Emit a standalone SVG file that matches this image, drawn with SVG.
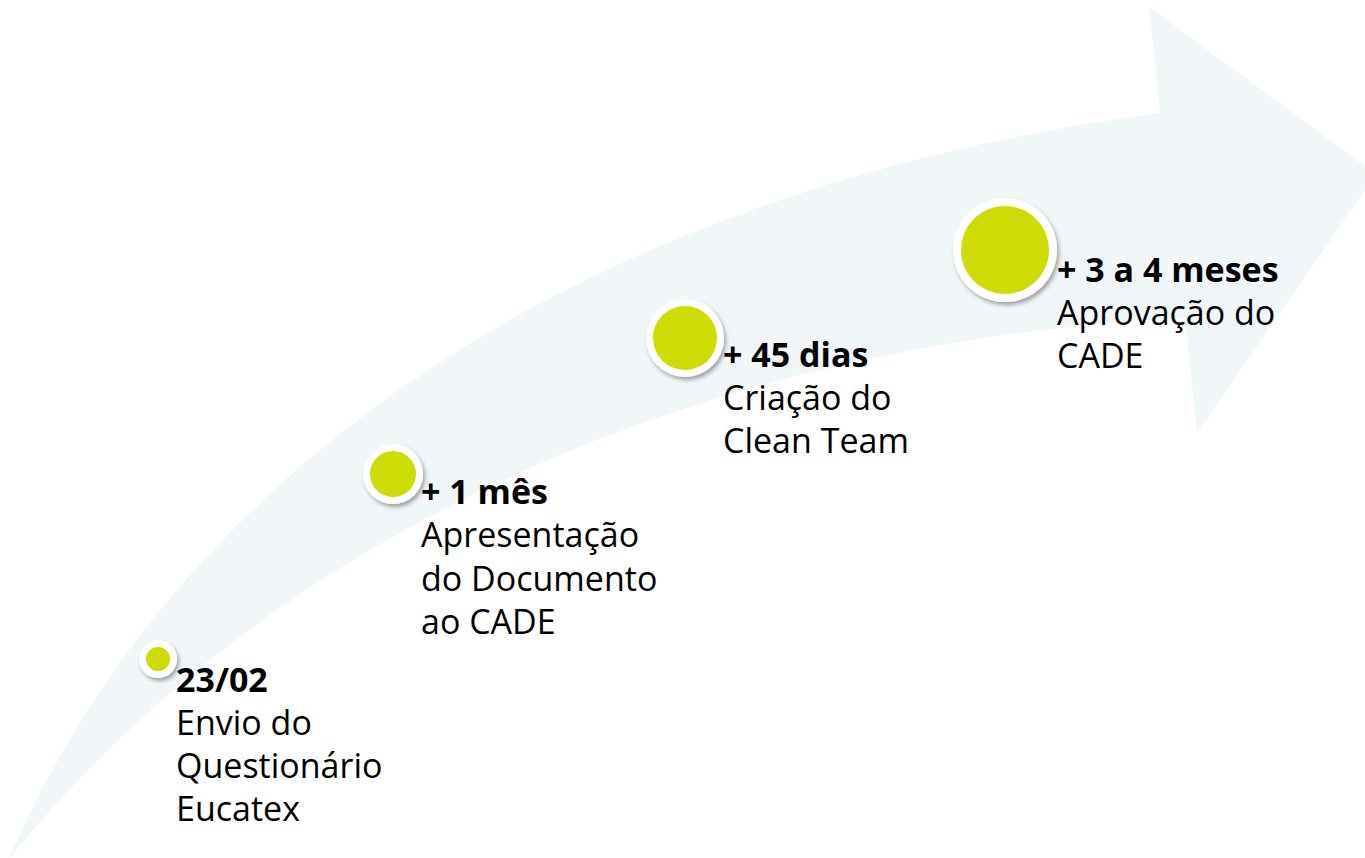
<svg xmlns="http://www.w3.org/2000/svg" width="1365" height="858" viewBox="0 0 1365 858">
<style>
.band{fill:#F1F6F9;stroke:none}
.ring{fill:#FFFFFF;filter:url(#sh)}
.dot{fill:#CDDC05}
text{font-family:"Open Sans","Liberation Sans",sans-serif;font-size:34px;fill:#000000}
.b{font-weight:bold}
</style>
<defs>
<filter id="sh" x="-30%" y="-30%" width="170%" height="170%">
<feDropShadow dx="2" dy="3" stdDeviation="2.2" flood-color="#000000" flood-opacity="0.35"/>
</filter>
</defs>
<g id="arrow">
<path class="band" d="M8,860 C200,420 650,180 1160,113 L1149,7 L1365,166 L1365,190 L1197,433 L1185,318 C750,340 300,500 8,860 Z"/>
</g>
<g id="connectors"></g>
<g id="node1">
<circle class="ring" cx="158" cy="659" r="19"/>
<circle class="dot" cx="158" cy="659" r="12"/>
<text x="176" y="692" class="b">23/02</text>
<text x="176" y="735">Envio do</text>
<text x="176" y="778">Questionário</text>
<text x="176" y="821">Eucatex</text>
</g>
<g id="node2">
<circle class="ring" cx="393" cy="474" r="30"/>
<circle class="dot" cx="393" cy="474" r="23"/>
<text x="421" y="504" class="b">+ 1 mês</text>
<text x="421" y="547">Apresentação</text>
<text x="421" y="591">do Documento</text>
<text x="421" y="634">ao CADE</text>
</g>
<g id="node3">
<circle class="ring" cx="685" cy="338" r="39"/>
<circle class="dot" cx="685" cy="338" r="32"/>
<text x="723" y="367" class="b">+ 45 dias</text>
<text x="723" y="410">Criação do</text>
<text x="723" y="453">Clean Team</text>
</g>
<g id="node4">
<circle class="ring" cx="1005" cy="250" r="52"/>
<circle class="dot" cx="1005" cy="250" r="44"/>
<text x="1057" y="282" class="b">+ 3 a 4 meses</text>
<text x="1057" y="325">Aprovação do</text>
<text x="1057" y="368">CADE</text>
</g>
</svg>
